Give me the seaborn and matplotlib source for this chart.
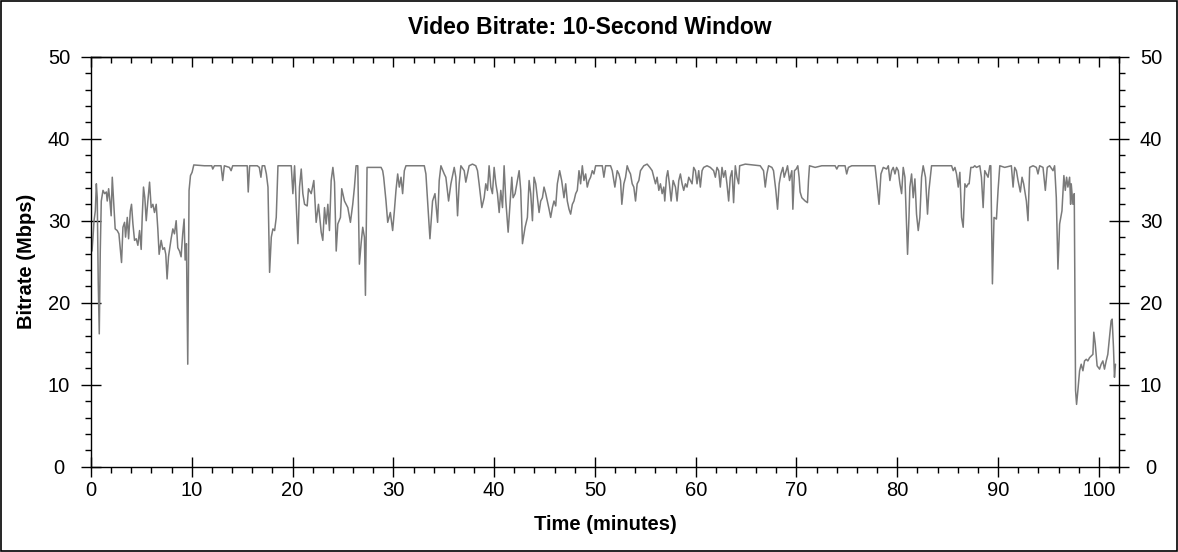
import matplotlib
matplotlib.use("Agg")
import matplotlib.pyplot as plt
from matplotlib.ticker import MultipleLocator
import seaborn as sns
import pandas as pd

# Values (time in minutes, bitrate in Mbps)
minutes = [
    0.1, 0.2, 0.3, 0.43, 0.53, 0.62, 0.72, 0.82, 0.92, 1.02,
    1.19, 1.35, 1.52, 1.61, 1.75, 1.88, 2.0, 2.11, 2.24, 2.4,
    2.6, 2.77, 2.9, 3.03, 3.17, 3.33, 3.43, 3.6, 3.73, 3.9,
    4.02, 4.16, 4.32, 4.49, 4.65, 4.82, 4.98, 5.08, 5.21, 5.34,
    5.48, 5.64, 5.81, 5.97, 6.14, 6.3, 6.47, 6.63, 6.76, 6.96,
    7.13, 7.29, 7.42, 7.55, 7.69, 7.82, 7.95, 8.12, 8.28, 8.45,
    8.61, 8.78, 8.94, 9.1, 9.24, 9.34, 9.47, 9.6, 9.73, 9.87,
    10.03, 10.2,
    11.25, 11.98, 12.08, 12.24, 12.9, 13.07, 13.23, 13.73, 13.9, 14.06,
    15.5, 15.6, 15.74, 16.5, 16.7, 16.86, 16.99, 17.23, 17.4, 17.56,
    17.72, 17.89, 18.05, 18.22, 18.38, 18.55, 19.87, 20.03, 20.2, 20.36,
    20.53, 20.69, 20.86, 21.02, 21.19, 21.45, 21.58, 21.85, 22.11, 22.34,
    22.57, 22.84, 23.0, 23.17, 23.33, 23.5, 23.66, 23.83, 24.0, 24.16,
    24.33, 24.49, 24.75, 24.88, 25.15, 25.31, 25.48, 25.74, 25.97, 26.14,
    26.3, 26.47, 26.63, 26.8, 26.96, 27.13, 27.23, 27.39, 28.78, 28.94,
    29.04, 29.27, 29.44, 29.7, 29.93, 30.1, 30.26, 30.43, 30.59, 30.76,
    30.92, 31.09, 31.25, 33.07, 33.23, 33.4, 33.63, 33.89, 34.13, 34.39,
    34.55, 34.72, 35.05,
    35.21, 35.48, 35.71, 36.04, 36.2, 36.37, 36.53, 36.7, 37.03, 37.19,
    37.52, 37.85, 38.18, 38.35, 38.51, 38.78, 39.01, 39.17, 39.34, 39.5,
    39.67, 39.83, 40.0, 40.17, 40.33, 40.5, 40.66, 40.83, 40.99, 41.16,
    41.39, 41.55, 41.75, 41.88, 42.08, 42.31, 42.48, 42.64, 42.81, 43.07,
    43.3, 43.47, 43.63, 43.8, 43.96, 44.13, 44.29, 44.46, 44.62, 44.79,
    44.95, 45.12, 45.28, 45.45, 45.61, 45.78, 45.94, 46.11, 46.27, 46.5,
    46.7, 46.93, 47.1, 47.26, 47.43, 47.59, 47.76, 47.92, 48.09, 48.25,
    48.42, 48.58, 48.75, 48.91, 49.08, 49.24, 49.41, 49.57, 49.74, 49.9,
    50.07, 50.73, 50.89, 51.06, 51.55, 51.72, 51.98, 52.21,
    52.38, 52.54, 52.67, 52.87, 53.04, 53.2, 53.37, 53.53, 53.7, 53.86,
    54.03, 54.19, 54.36, 54.52, 54.85, 55.18, 55.45, 55.68, 55.84, 56.01,
    56.17, 56.34, 56.5, 56.67, 56.83, 56.93, 57.1, 57.23, 57.39, 57.56,
    57.76, 57.99, 58.15, 58.32, 58.48, 58.65, 58.81, 58.98, 59.14, 59.31,
    59.47, 59.64, 59.8, 59.97, 60.13, 60.3, 60.46, 60.63, 60.79, 61.12,
    61.45, 61.78, 61.95, 62.11, 62.28, 62.44, 62.61, 62.77, 62.94, 63.1,
    63.27, 63.43, 63.6, 63.76, 63.93, 64.09, 64.26, 64.36, 64.92, 66.4,
    66.73, 66.9, 67.06, 67.23, 67.56, 67.72, 67.95, 68.12, 68.28, 68.45,
    68.65, 68.78, 68.98, 69.11, 69.31,
    69.54, 69.64, 69.8, 69.97, 70.13, 70.26, 70.36, 70.53, 70.86, 71.09,
    71.19, 71.29, 71.85, 72.51, 73.83, 74.0, 74.16, 74.82, 74.98, 75.15,
    75.48, 77.79, 77.95, 78.19, 78.38, 78.61, 78.94, 79.11, 79.27, 79.44,
    79.6, 79.77, 79.93, 80.1, 80.26, 80.43, 80.59, 80.76, 80.92, 81.02,
    81.16, 81.25, 81.42, 81.58, 81.75, 81.91, 82.08, 82.24, 82.41, 82.57,
    82.8, 83.0, 83.14, 83.4, 85.39, 85.55, 85.72, 85.88, 86.05, 86.21,
    86.38, 86.54, 86.71, 86.87, 87.04,
    87.13, 87.3, 87.53, 87.69, 87.86, 88.19, 88.35, 88.52, 88.68, 88.85,
    89.01, 89.18, 89.28, 89.44, 89.6, 89.84, 90.0, 90.17, 90.66, 91.32,
    91.49, 91.65, 91.82, 91.98, 92.21, 92.38, 92.54, 92.81, 92.97, 93.14,
    93.47, 93.8, 93.96, 94.13, 94.46, 94.69, 94.88, 95.12, 95.45, 95.61,
    95.78, 95.94, 96.11, 96.34, 96.53, 96.67, 96.8, 96.93, 97.1, 97.2,
    97.26, 97.43, 97.56, 97.62, 97.69, 97.79, 97.92, 98.09, 98.25, 98.42,
    98.58, 98.75, 98.91, 99.08, 99.24, 99.41, 99.5, 99.64, 99.83, 100.07,
    100.23, 100.4, 100.56, 100.73, 100.89, 101.06, 101.22, 101.32, 101.45, 101.55,
    101.65,
]

mbps = [
    26.3, 28.0, 30.0, 31.2, 34.5, 32.8, 22.3, 16.2, 26.3, 32.4,
    33.7, 33.3, 33.5, 32.4, 33.9, 32.4, 30.6, 35.3, 32.4, 29.0,
    28.8, 28.4, 26.7, 24.9, 29.2, 29.8, 28.0, 30.4, 27.8, 31.2,
    32.0, 29.6, 27.6, 27.8, 27.0, 28.8, 26.5, 30.4, 34.1, 32.8,
    30.0, 32.4, 34.7, 31.6, 32.0, 31.0, 32.0, 29.0, 25.9, 27.6,
    26.5, 26.7, 25.9, 22.9, 25.6, 26.7, 27.8, 29.0, 28.4, 30.0,
    26.7, 26.3, 25.6, 28.4, 30.2, 25.2, 27.2, 12.5, 33.7, 35.5,
    35.9, 36.8,
    36.7, 36.7, 36.3, 36.7, 36.7, 34.9, 36.7, 36.5, 36.1, 36.7,
    36.7, 33.5, 36.7, 36.7, 36.5, 35.3, 36.7, 36.7, 35.7, 34.1,
    23.7, 28.0, 29.0, 28.8, 30.4, 36.7, 36.7, 33.3, 36.7, 32.0,
    27.2, 34.1, 36.3, 33.3, 32.0, 31.8, 33.9, 33.3, 34.9, 29.8,
    32.0, 28.6, 27.6, 31.6, 29.6, 32.0, 28.8, 34.9, 36.5, 34.7,
    26.3, 29.6, 30.4, 33.9, 32.4, 32.0, 31.6, 29.8, 32.0, 34.1,
    36.7, 36.7, 24.7, 27.2, 29.2, 28.0, 20.9, 36.5, 36.5, 36.1,
    35.3, 32.4, 29.8, 31.0, 28.8, 31.2, 33.7, 35.7, 34.1, 35.3,
    33.3, 36.1, 36.7, 36.7, 35.7, 32.4, 27.8, 32.4, 33.3, 29.8,
    34.9, 36.7, 35.7,
    35.3, 32.4, 34.5, 36.5, 35.3, 30.6, 34.5, 36.7, 36.1, 34.7,
    36.7, 36.9, 36.7, 36.1, 34.5, 31.6, 32.8, 34.5, 33.7, 36.7,
    34.1, 33.3, 36.5, 34.5, 33.3, 31.0, 33.7, 31.6, 36.7, 32.4,
    28.6, 31.6, 35.3, 32.8, 33.3, 34.9, 36.1, 33.7, 27.2, 29.2,
    30.4, 34.9, 33.3, 30.0, 35.3, 34.5, 32.8, 31.0, 32.4, 32.8,
    34.1, 33.3, 32.4, 31.4, 30.4, 31.6, 32.4, 31.8, 34.5, 36.1,
    34.9, 32.8, 34.5, 32.4, 31.4, 30.8, 32.0, 32.4, 33.3, 33.7,
    36.1, 34.5, 36.7, 34.9, 35.7, 34.1, 34.9, 35.3, 36.1, 35.7,
    36.7, 36.7, 35.3, 36.7, 36.7, 36.1, 34.1, 36.1,
    35.7, 34.9, 32.0, 34.5, 35.3, 36.7, 36.1, 35.7, 34.5, 34.1,
    32.4, 34.5, 34.9, 36.1, 36.7, 36.9, 36.5, 36.1, 35.3, 34.5,
    35.3, 33.7, 34.5, 33.3, 34.1, 32.4, 35.3, 36.1, 34.5, 32.4,
    34.9, 34.1, 32.4, 34.9, 35.7, 34.5, 33.7, 34.5, 34.1, 35.3,
    34.9, 34.5, 36.5, 36.1, 34.5, 36.1, 34.1, 36.1, 36.5, 36.7,
    36.5, 36.1, 35.3, 36.5, 36.1, 34.1, 36.5, 35.3, 36.1, 34.5,
    32.4, 35.3, 36.1, 32.2, 36.7, 35.3, 34.5, 36.7, 36.9, 36.7,
    36.1, 34.1, 35.7, 36.7, 36.5, 36.1, 33.7, 31.4, 34.5, 35.7,
    36.5, 35.3, 36.1, 36.7, 34.9,
    36.1, 31.4, 36.1, 36.3, 36.7, 35.3, 33.5, 32.8, 32.4, 32.2,
    34.9, 36.7, 36.5, 36.7, 36.7, 36.3, 36.7, 36.7, 35.7, 36.5,
    36.7, 36.7, 34.9, 32.0, 35.7, 36.5, 36.3, 36.7, 34.9, 36.1,
    36.5, 35.7, 36.5, 36.1, 34.5, 33.3, 36.5, 35.3, 29.6, 25.9,
    30.4, 34.1, 35.7, 32.8, 35.1, 30.8, 28.8, 30.4, 35.3, 36.7,
    35.3, 30.8, 33.7, 36.7, 36.7, 36.1, 36.5, 35.7, 34.1, 35.9,
    30.4, 29.2, 34.5, 34.1, 34.5,
    34.5, 36.5, 36.5, 36.7, 36.5, 36.7, 35.3, 31.6, 36.1, 35.7,
    35.3, 36.7, 36.7, 22.3, 30.4, 30.2, 33.7, 36.7, 36.5, 36.7,
    34.1, 36.5, 36.1, 34.9, 33.5, 35.3, 34.5, 32.4, 30.0, 36.5,
    36.7, 36.5, 35.7, 36.7, 36.5, 33.7, 36.5, 36.7, 36.1, 36.7,
    32.8, 24.1, 29.6, 31.2, 35.5, 33.7, 35.3, 34.1, 35.3, 32.0,
    34.5, 32.0, 33.3, 22.3, 9.3, 7.6, 9.3, 11.7, 12.5, 11.7,
    12.9, 13.1, 12.9, 13.3, 13.5, 13.7, 16.4, 15.0, 12.3, 11.9,
    12.5, 12.9, 11.9, 12.9, 13.7, 15.8, 17.8, 18.0, 14.6, 10.9,
    12.5,
]

x_ticks = [0, 10, 20, 30, 40, 50, 60, 70, 80, 90, 100]
y_ticks = [0, 10, 20, 30, 40, 50]

sns.set_theme(style="white")
plt.rcParams["font.family"] = ["Liberation Sans", "DejaVu Sans"]
plt.rcParams["text.color"] = "black"
plt.rcParams["axes.labelcolor"] = "black"

df = pd.DataFrame({"minutes": minutes, "mbps": mbps})

fig = plt.figure(figsize=(11.78, 5.52), dpi=100)
ax = fig.add_axes([91 / 1178, 85.3 / 552, 1028 / 1178, 410 / 552])

sns.lineplot(data=df, x="minutes", y="mbps", ax=ax, color="#7a7a7a",
             linewidth=1.1, estimator=None, sort=False)

ax.set_xlim(0, 102.0)
ax.set_ylim(0, 50)
ax.set_xticks(x_ticks)
ax.set_yticks(y_ticks)
ax.xaxis.set_minor_locator(MultipleLocator(2))
ax.yaxis.set_minor_locator(MultipleLocator(2))

for side in ["left", "right", "top", "bottom"]:
    ax.spines[side].set_visible(True)
    ax.spines[side].set_color("black")
    ax.spines[side].set_linewidth(1.0)

ax.tick_params(axis="x", which="major", direction="inout", length=14, width=1,
               colors="black", labelsize=14.5, pad=3, bottom=True, top=False)
ax.tick_params(axis="x", which="minor", direction="out", length=4, width=1,
               colors="black", bottom=True, top=False)
ax.tick_params(axis="y", which="major", direction="inout", length=14, width=1,
               colors="black", labelsize=14.5, pad=16,
               left=True, right=True, labelleft=True, labelright=True)
ax.tick_params(axis="y", which="minor", direction="out", length=4, width=1,
               colors="black", left=True, right=True)

for tick in ax.yaxis.get_major_ticks():
    tick.label1.set_horizontalalignment("center")
    tick.label2.set_horizontalalignment("center")

# ticks along the top edge point inward only
top = ax.secondary_xaxis("top")
top.set_xticks(x_ticks)
top.xaxis.set_minor_locator(MultipleLocator(2))
top.tick_params(which="major", direction="in", length=7, width=1,
                colors="black", labeltop=False)
top.tick_params(which="minor", direction="in", length=4, width=1, colors="black")
top.spines["top"].set_linewidth(1.0)

ax.set_xlabel("Time (minutes)", fontsize=14.5, fontweight="bold")
ax.set_ylabel("Bitrate (Mbps)", fontsize=14.5, fontweight="bold")
ax.xaxis.label.set_va("center")
ax.yaxis.label.set_va("center")
ax.xaxis.set_label_coords(0.5, (466.7 - 524) / 410)
ax.yaxis.set_label_coords((27 - 91) / 1028, 0.5)

fig.text(590 / 1178, 1 - 28 / 552, "Video Bitrate: 10-Second Window",
         ha="center", va="center", fontsize=16.5, fontweight="bold")

fig.add_artist(plt.Rectangle((0.0008, 0.0015), 0.9984, 0.997,
                             transform=fig.transFigure, fill=False,
                             edgecolor="black", linewidth=1.2))

fig.savefig("out.png", dpi=100)
